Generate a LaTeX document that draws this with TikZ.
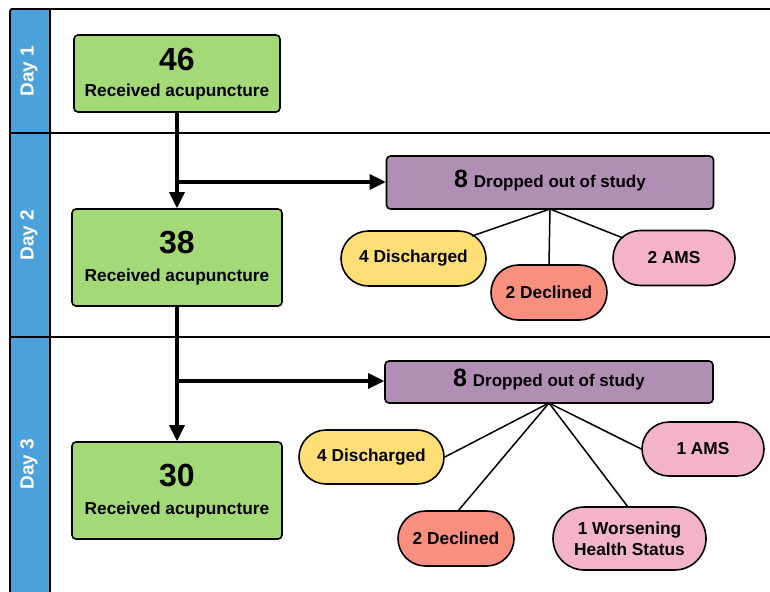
\documentclass[tikz,border=0pt]{standalone}
\usepackage{fontspec}
\setmainfont{Liberation Sans}
\usetikzlibrary{arrows.meta,shapes.misc}
\definecolor{hdrblue}{HTML}{4BA1D9}
\definecolor{boxgreen}{HTML}{A3D977}
\definecolor{boxpurple}{HTML}{B18FB4}
\definecolor{ovyellow}{HTML}{FFDE75}
\definecolor{ovred}{HTML}{F98F7E}
\definecolor{ovpink}{HTML}{F3B3C8}
\tikzset{
  greenbox/.style={draw=black, line width=1.6pt, fill=boxgreen, rounded corners=4pt, minimum width=210pt, minimum height=97pt, align=center, inner sep=0pt},
  dropbox/.style={draw=black, line width=1.6pt, fill=boxpurple, rounded corners=4pt, minimum width=327pt, align=center, inner sep=0pt},
  oval/.style={draw=black, line width=1.6pt, rounded rectangle, minimum height=55pt, align=center, inner sep=0pt, font=\bfseries\fontsize{17.3}{20}\selectfont},
  flow/.style={line width=3.2pt, -{Triangle[length=16pt 0,width=15pt 0]}},
  twig/.style={line width=1.5pt},
  lane/.style={line width=1.8pt},
  daylbl/.style={text=white, rotate=90, font=\bfseries\fontsize{19}{21}\selectfont},
  bignum/.style={font=\bfseries\fontsize{32}{34}\selectfont},
  smalltxt/.style={font=\bfseries\fontsize{17.3}{20}\selectfont}
}
\begin{document}
\begin{tikzpicture}[x=1pt,y=-1pt]
\useasboundingbox (0,0) rectangle (770,591);
\begin{scope}
\clip (0,0) rectangle (770,591);
% header column
\fill[hdrblue] (10,600) -- (10,14) .. controls (10,9) .. (15,9) -- (50,9) -- (50,600) -- cycle;
\draw[lane] (10,600) -- (10,14) .. controls (10,9) .. (15,9) -- (780,9);
\draw[lane] (50,9) -- (50,600);
\draw[lane] (10,133) -- (780,133);
\draw[lane] (10,337) -- (780,337);
\end{scope}
\node[daylbl] (d1) at (29,71) {Day 1};
\node[daylbl] (d2) at (29,235) {Day 2};
\node[daylbl] (d3) at (29,464) {Day 3};

% green boxes
\node[greenbox, minimum width=206pt, minimum height=77pt] (g1) at (177,73.5) {};
\node[bignum] (g1n) at (177,59) {46};
\node[smalltxt] (g1t) at (177,92) {Received acupuncture};

\node[greenbox] (g2) at (177,257.5) {};
\node[bignum] (g2n) at (177,243) {38};
\node[smalltxt] (g2t) at (177,277) {Received acupuncture};

\node[greenbox] (g3) at (177,490.5) {};
\node[bignum] (g3n) at (177,476) {30};
\node[smalltxt] (g3t) at (177,510) {Received acupuncture};

% purple boxes
\node[dropbox, minimum height=53pt] (p1) at (550,182.5) {};
\node (p1t) at (550,180.5) {\textbf{\fontsize{25}{27}\selectfont 8}\hspace{3pt} {\bfseries\fontsize{17}{20}\selectfont Dropped out of study}};
\node[dropbox, minimum height=42pt, minimum width=328pt] (p2) at (549,382) {};
\node (p2t) at (549,379.5) {\textbf{\fontsize{25}{27}\selectfont 8}\hspace{3pt} {\bfseries\fontsize{17}{20}\selectfont Dropped out of study}};

% ovals lane 2
\node[oval, fill=ovyellow, minimum width=145pt] (a1) at (413.5,258.5) {4 Discharged};
\node[oval, fill=ovred, minimum width=116pt] (a2) at (549,292.5) {2 Declined};
\node[oval, fill=ovpink, minimum width=122pt] (a3) at (674,258) {2 AMS};

% ovals lane 3
\node[oval, fill=ovyellow, minimum width=145pt, minimum height=54pt] (b1) at (371.5,457) {4 Discharged};
\node[oval, fill=ovred, minimum width=116pt] (b2) at (456,538.5) {2 Declined};
\node[oval, fill=ovpink, minimum width=153pt, minimum height=63pt, font=\bfseries\fontsize{17.3}{21}\selectfont] (b3) at (629.5,538.5) {1 Worsening\\Health Status};
\node[oval, fill=ovpink, minimum width=122pt, minimum height=54pt] (b4) at (703,449) {1 AMS};

% flow arrows
\coordinate (j1) at (177,182);
\coordinate (j2) at (177,381);
\draw[flow] (g1.south) -- (g2.north);
\draw[flow] (j1) -- (j1 -| p1.west);
\draw[flow] (g2.south) -- (g3.north);
\draw[flow] (j2) -- (j2 -| p2.west);

% twigs lane 2
\coordinate (p1b) at (550,209);
\draw[twig] (p1b) -- (472,236);
\draw[twig] (p1b) -- (a2.north);
\draw[twig] (p1b) -- (623,238);
% twigs lane 3
\coordinate (p2b) at (549,403);
\draw[twig] (p2b) -- (b1.east);
\draw[twig] (p2b) -- (458,511);
\draw[twig] (p2b) -- (628,507);
\draw[twig] (p2b) -- (b4.west);
\end{tikzpicture}
\end{document}
